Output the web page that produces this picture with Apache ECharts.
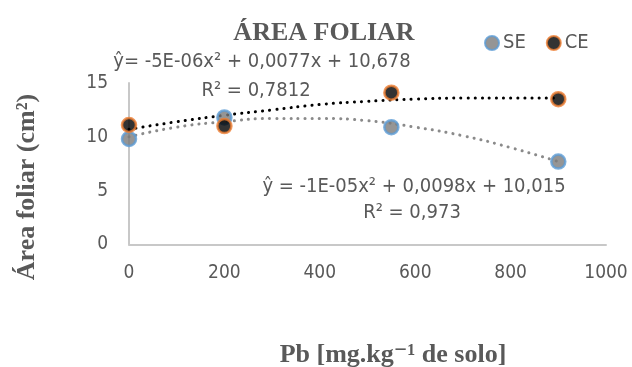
<!DOCTYPE html>
<html>
<head>
<meta charset="utf-8">
<script src="https://cdn.jsdelivr.net/npm/echarts@6/dist/echarts.min.js"></script>
<style>html,body{margin:0;padding:0;background:#fff}#c{width:632px;height:367px}</style>
</head>
<body>
<div id="c"></div>
<script>
// Data
const doses = [0, 200, 550, 900];
const seValues = [9.8, 11.8, 10.9, 7.7];
const ceValues = [11.1, 11.0, 14.1, 13.5];
// Trendline points
const trendX = [0, 100, 200, 300, 400, 500, 600, 700, 800, 900];
const seTrend = [10.0, 10.9, 11.4, 11.7, 11.7, 11.5, 10.9, 10.1, 9.0, 7.7];
const ceTrend = [10.7, 11.4, 12.0, 12.5, 13.0, 13.3, 13.5, 13.6, 13.6, 13.6];
const xTicks = [0, 200, 400, 600, 800, 1000];
const yTicks = [0, 5, 10, 15];
const titleText = 'ÁREA FOLIAR';
const xName = 'Pb [mg.kg⁻¹ de solo]';
const yName = 'Área foliar (cm²)';
const seEq = 'ŷ = -1E-05x² + 0,0098x + 10,015';
const seR2 = 'R² = 0,973';
const ceEq = 'ŷ= -5E-06x² + 0,0077x + 10,678';
const ceR2 = 'R² = 0,7812';

const pair = (xs, ys) => xs.map((x, i) => [x, ys[i]]);
const grey = '#595959';
const sans = "'DejaVu Sans Condensed','Liberation Sans Narrow','Liberation Sans',sans-serif";
const serif = "'Liberation Serif','DejaVu Serif',serif";

const chart = echarts.init(document.getElementById('c'), null, {renderer: 'canvas'});
chart.setOption({
  animation: false,
  backgroundColor: '#fff',
  title: {
    text: titleText, left: 319, top: 15, textAlign: 'center',
    textStyle: {fontFamily: serif, fontWeight: 'bold', fontSize: 26, color: grey}
  },
  legend: {
    left: 479, top: 28, icon: 'circle', itemWidth: 14, itemHeight: 14, itemGap: 20,
    data: ['SE', 'CE'],
    textStyle: {fontFamily: sans, fontSize: 20, color: grey, padding: [0, 0, 0, -1]}
  },
  grid: {left: 129, right: 26, top: 83, bottom: 122.5, containLabel: false, outerBoundsMode: 'none'},
  xAxis: {
    type: 'value', min: 0, max: 1000, interval: 200,
    axisLine: {show: true, lineStyle: {color: '#c8c8c8', width: 2}},
    axisTick: {show: false}, splitLine: {show: false},
    axisLabel: {fontFamily: sans, fontSize: 19, color: grey, margin: 19,
      formatter: v => String(v)}
  },
  yAxis: {
    type: 'value', min: 0, max: 15, interval: 5,
    axisLine: {show: true, lineStyle: {color: '#c8c8c8', width: 2}},
    axisTick: {show: false}, splitLine: {show: false},
    axisLabel: {fontFamily: sans, fontSize: 19, color: grey, margin: 21,
      formatter: v => String(v)}
  },
  series: [
    {
      name: 'SE trend', type: 'line', smooth: true, symbol: 'none', z: 2,
      data: pair(trendX, seTrend),
      lineStyle: {color: '#8a8a8a', width: 3, type: [0.1, 7], cap: 'round'}
    },
    {
      name: 'CE trend', type: 'line', smooth: true, symbol: 'none', z: 3,
      data: pair(trendX, ceTrend),
      lineStyle: {color: '#000', width: 3, type: [0.1, 7], cap: 'round'}
    },
    {
      name: 'SE', type: 'scatter', symbolSize: 14, z: 5,
      data: pair(doses, seValues),
      itemStyle: {color: '#7a7a7a', borderColor: '#5b9bd5', borderWidth: 2.5}
    },
    {
      name: 'CE', type: 'scatter', symbolSize: 14, z: 6,
      data: pair(doses, ceValues),
      itemStyle: {color: '#000', borderColor: '#ed7d31', borderWidth: 2.5}
    }
  ],
  graphic: [
    {type: 'text', x: 262, y: 62, style: {text: ceEq, font: "20px " + sans, fill: grey, textAlign: 'center', textVerticalAlign: 'middle'}},
    {type: 'text', x: 256, y: 91, style: {text: ceR2, font: "20px " + sans, fill: grey, textAlign: 'center', textVerticalAlign: 'middle'}},
    {type: 'text', x: 414, y: 187, style: {text: seEq, font: "20px " + sans, fill: grey, textAlign: 'center', textVerticalAlign: 'middle'}},
    {type: 'text', x: 412, y: 213, style: {text: seR2, font: "20px " + sans, fill: grey, textAlign: 'center', textVerticalAlign: 'middle'}},
    {type: 'text', x: 393, y: 355, style: {text: xName, font: "bold 26px " + serif, fill: grey, textAlign: 'center', textVerticalAlign: 'middle'}},
    {type: 'text', x: 27, y: 187, rotation: Math.PI / 2, style: {text: yName, font: "bold 26px " + serif, fill: grey, textAlign: 'center', textVerticalAlign: 'middle'}}
  ]
});
</script>
</body>
</html>
